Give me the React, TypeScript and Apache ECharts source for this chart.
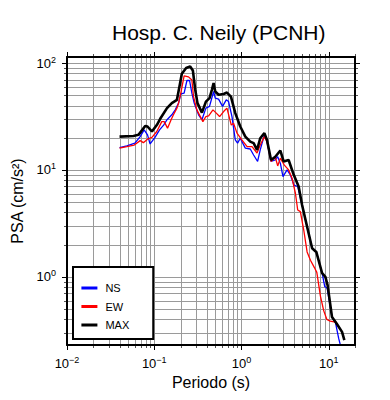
import React, { useEffect, useRef } from 'react';
import * as echarts from 'echarts';

const FONT = '"Liberation Sans", Arial, Helvetica, sans-serif';

const X_MIN = 0.01;
const X_MAX = 20;
const Y_MIN = 0.23;
const Y_MAX = 114;

const xDecades = [0.01, 0.1, 1, 10];
const yDecades = [1, 10, 100];
const minorSteps = [2, 3, 4, 5, 6, 7, 8, 9];
const legendNames = ['NS', 'EW', 'MAX'];

const nsPeriods = [0.04, 0.0485, 0.06, 0.069, 0.0766, 0.0837, 0.0897, 0.102, 0.115, 0.128, 0.14, 0.159, 0.174, 0.19, 0.202, 0.22, 0.237, 0.254, 0.27, 0.287, 0.322, 0.352, 0.391, 0.43, 0.479, 0.5, 0.546, 0.607, 0.669, 0.711, 0.778, 0.849, 0.902, 0.968, 1.106, 1.26, 1.377, 1.53, 1.64, 1.83, 1.96, 2.18, 2.44, 2.6, 2.79, 2.99, 3.33, 3.63, 4.0, 4.41, 4.95, 5.65, 6.45, 7.2, 8.4, 9.0, 9.6, 10.9, 11.9, 13.0, 13.6];
const nsValues = [16.2, 16.8, 17.8, 20.5, 23.7, 21.3, 17.5, 20.2, 23.7, 26.3, 29.5, 32.8, 36.5, 42.2, 51.5, 52.3, 68.7, 68.7, 52.3, 42.2, 32.8, 29.5, 37.9, 39.3, 54.2, 47, 46, 39.3, 45.3, 43.6, 31.6, 19.1, 17.8, 19.8, 16, 15.7, 13.8, 12, 15.4, 21.3, 18.4, 12, 12.4, 13.3, 11.5, 8.66, 10, 9.0, 7.2, 7.0, 4.7, 2.94, 1.85, 1.71, 1.08, 0.81, 0.78, 0.42, 0.378, 0.265, 0.229];

const ewPeriods = [0.04, 0.0485, 0.059, 0.069, 0.075, 0.0837, 0.094, 0.107, 0.122, 0.13, 0.142, 0.156, 0.166, 0.182, 0.19, 0.202, 0.22, 0.247, 0.27, 0.282, 0.308, 0.361, 0.391, 0.42, 0.471, 0.514, 0.561, 0.624, 0.681, 0.764, 0.811, 0.888, 1.01, 1.16, 1.32, 1.507, 1.64, 1.83, 1.96, 2.18, 2.44, 2.6, 2.79, 3.1, 3.47, 3.8, 4.15, 4.41, 4.73, 5.17, 5.65, 6.17, 6.85, 7.3, 8.03, 8.77, 9.5, 10.4, 12.3];
const ewValues = [16, 16.5, 17.1, 18.8, 18.0, 19.4, 20.2, 22.9, 28.3, 28.3, 24.6, 29.5, 32.8, 37.9, 42.2, 53, 76, 74.3, 69.4, 48.6, 36.5, 28.3, 31.6, 32.1, 36.5, 34, 31.6, 35.2, 37.9, 26.3, 27.3, 22.1, 19.1, 16.5, 16.5, 14.4, 17.1, 20.5, 18.4, 12, 13.2, 10.9, 12.9, 11.1, 10, 8.36, 6.05, 4.22, 4.07, 2.74, 1.71, 1.43, 1.22, 1.1, 0.66, 0.48, 0.4, 0.385, 0.375];

const maxPeriods = [0.04, 0.0577, 0.066, 0.0787, 0.0837, 0.094, 0.107, 0.117, 0.14, 0.159, 0.182, 0.198, 0.207, 0.232, 0.258, 0.277, 0.295, 0.313, 0.352, 0.391, 0.43, 0.458, 0.479, 0.5, 0.546, 0.624, 0.681, 0.757, 0.849, 0.968, 1.106, 1.26, 1.377, 1.507, 1.64, 1.83, 1.96, 2.18, 2.44, 2.79, 3.04, 3.47, 3.97, 4.52, 4.95, 5.65, 6.45, 7.2, 8.4, 9.15, 9.7, 10.9, 12.3, 14.2, 15.1];
const maxValues = [20.5, 20.8, 21.3, 25.8, 25.5, 22.9, 26.3, 30.1, 37.9, 42.2, 45.3, 65, 79.4, 89.8, 93, 85.3, 56.3, 42.2, 34.4, 43.6, 47, 56.3, 65, 54.2, 50.5, 51.4, 53, 48.6, 34, 25.5, 20.5, 18.4, 17.8, 15.4, 19.8, 22.1, 19.1, 12.4, 13.3, 15.2, 12, 12.4, 9.0, 7.0, 4.7, 2.94, 1.85, 1.71, 1.08, 1.0, 0.836, 0.42, 0.366, 0.305, 0.255];

const zip = (xs: number[], ys: number[]) => xs.map((x, i) => [x, ys[i]]);

const gridValues = (decades: number[], lo: number, hi: number) => {
  const out: { v: number; major: boolean }[] = [];
  const starts = [decades[0] / 10, ...decades];
  starts.forEach((d) => {
    [1, ...minorSteps].forEach((m) => {
      const v = d * m;
      const major = m === 1;
      if (v >= lo * 0.9999 && v <= hi * 1.0001) out.push({ v, major });
    });
  });
  return out;
};

const expLabel = (v: number) => {
  const e = Math.log10(v);
  const r = Math.round(e);
  if (Math.abs(e - r) > 1e-6) return '';
  return `{b|10}{s|${r < 0 ? '\u2212' + -r : r}}`;
};

const labelRich = {
  b: { fontSize: 13, color: '#000', fontFamily: FONT, lineHeight: 16 },
  s: { fontSize: 9, color: '#000', fontFamily: FONT, lineHeight: 10, verticalAlign: 'top' },
};

export default function App() {
  const ref = useRef<HTMLDivElement>(null);
  useEffect(() => {
    const chart = echarts.init(ref.current!, null, { renderer: 'svg' });
    const xg = gridValues(xDecades, X_MIN, X_MAX);
    const yg = gridValues(yDecades, Y_MIN, Y_MAX);

    const renderGrid = (_params: any, api: any) => {
      const lo = api.coord([X_MIN, Y_MIN]);
      const hi = api.coord([X_MAX, Y_MAX]);
      const left = lo[0];
      const bottom = lo[1];
      const right = hi[0];
      const top = hi[1];
      const children: any[] = [];
      const gridStyle = { stroke: '#9a9a9a', lineWidth: 1 };
      xg.forEach(({ v, major }) => {
        const x = Math.round(api.coord([v, Y_MIN])[0]) + 0.5;
        const len = major ? 5 : 3;
        const tickStyle = { stroke: major ? '#000' : '#555', lineWidth: 1 };
        children.push({ type: 'line', shape: { x1: x, y1: top, x2: x, y2: bottom }, style: gridStyle });
        children.push({ type: 'line', shape: { x1: x, y1: bottom, x2: x, y2: bottom + len }, style: tickStyle });
        children.push({ type: 'line', shape: { x1: x, y1: top - len, x2: x, y2: top }, style: tickStyle });
      });
      yg.forEach(({ v, major }) => {
        const y = Math.round(api.coord([X_MIN, v])[1]) + 0.5;
        const len = major ? 5 : 3;
        const tickStyle = { stroke: major ? '#000' : '#555', lineWidth: 1 };
        children.push({ type: 'line', shape: { x1: left, y1: y, x2: right, y2: y }, style: gridStyle });
        children.push({ type: 'line', shape: { x1: left - len, y1: y, x2: left, y2: y }, style: tickStyle });
        children.push({ type: 'line', shape: { x1: right, y1: y, x2: right + len, y2: y }, style: tickStyle });
      });
      return { type: 'group', children };
    };

    const axisCommon = {
      type: 'log' as const,
      logBase: 10,
      z: 4,
      axisTick: { show: false },
      splitLine: { show: false },
      minorTick: { show: false },
      minorSplitLine: { show: false },
    };

    const option: any = {
      animation: false,
      backgroundColor: '#fff',
      title: {
        text: 'Hosp. C. Neily (PCNH)',
        left: 112,
        top: 22,
        padding: 0,
        textStyle: { fontSize: 21, fontWeight: 'normal', color: '#000', fontFamily: FONT },
      },
      grid: { left: 67, right: 35, top: 57, bottom: 55, containLabel: false },
      legend: {
        data: legendNames,
        orient: 'vertical',
        left: 73,
        top: 267,
        icon: 'rect',
        itemWidth: 16,
        itemHeight: 3,
        itemGap: 5.5,
        padding: [14.5, 24, 7.5, 8.4],
        backgroundColor: '#fff',
        borderColor: '#000',
        borderWidth: 2,
        borderRadius: 0,
        itemStyle: { borderWidth: 0 },
        textStyle: { fontSize: 11, color: '#000', fontFamily: FONT, lineHeight: 13, padding: [0, 0, 0, 3] },
        z: 6,
      },
      xAxis: [
        {
          ...axisCommon,
          min: X_MIN,
          max: X_MAX,
          position: 'bottom',
          axisLine: { show: true, onZero: false, lineStyle: { color: '#000', width: 2 } },
          axisLabel: {
            show: true,
            customValues: xDecades,
            formatter: expLabel,
            rich: labelRich,
            margin: 10,
            showMinLabel: true,
            showMaxLabel: true,
          },
          name: 'Periodo (s)',
          nameLocation: 'middle',
          nameGap: 28,
          nameTextStyle: { fontSize: 16, color: '#000', fontFamily: FONT },
        },
        {
          ...axisCommon,
          min: X_MIN,
          max: X_MAX,
          position: 'top',
          axisLine: { show: true, onZero: false, lineStyle: { color: '#000', width: 2 } },
          axisLabel: { show: false },
        },
      ],
      yAxis: [
        {
          ...axisCommon,
          min: Y_MIN,
          max: Y_MAX,
          position: 'left',
          axisLine: { show: true, onZero: false, lineStyle: { color: '#000', width: 2 } },
          axisLabel: {
            show: true,
            customValues: yDecades,
            formatter: expLabel,
            rich: labelRich,
            margin: 11,
            showMinLabel: true,
            showMaxLabel: true,
          },
          name: 'PSA (cm/s\u00b2)',
          nameLocation: 'middle',
          nameGap: 31,
          nameTextStyle: { fontSize: 16, color: '#000', fontFamily: FONT },
        },
        {
          ...axisCommon,
          min: Y_MIN,
          max: Y_MAX,
          position: 'right',
          axisLine: { show: true, onZero: false, lineStyle: { color: '#000', width: 2 } },
          axisLabel: { show: false },
        },
      ],
      series: [
        {
          type: 'custom',
          name: 'grid',
          xAxisIndex: 0,
          yAxisIndex: 0,
          clip: false,
          silent: true,
          z: 1,
          data: [[1, 1]],
          renderItem: renderGrid,
        },
        {
          type: 'line',
          name: 'NS',
          data: zip(nsPeriods, nsValues),
          symbol: 'none',
          color: '#0000ff',
          lineStyle: { width: 1.3, color: '#0000ff' },
          z: 3,
        },
        {
          type: 'line',
          name: 'EW',
          data: zip(ewPeriods, ewValues),
          symbol: 'none',
          color: '#ff0000',
          lineStyle: { width: 1.3, color: '#ff0000' },
          z: 3,
        },
        {
          type: 'line',
          name: 'MAX',
          data: zip(maxPeriods, maxValues),
          symbol: 'none',
          color: '#000000',
          lineStyle: { width: 2.6, color: '#000000' },
          z: 3,
        },
      ],
    };
    chart.setOption(option);
    return () => chart.dispose();
  }, []);
  return <div ref={ref} style={{ position: 'fixed', left: 0, top: 0, width: 390, height: 400 }} />;
}
